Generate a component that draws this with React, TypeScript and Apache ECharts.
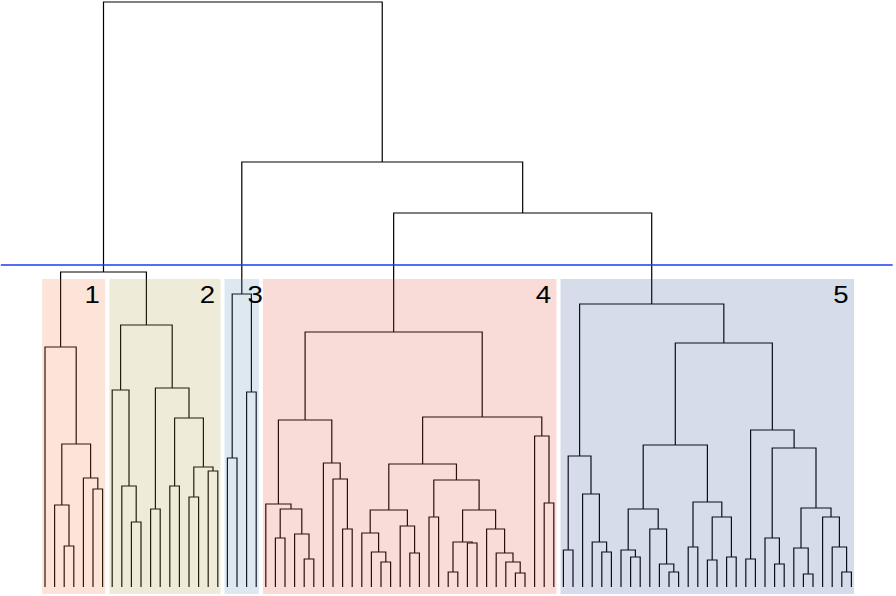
import { useEffect, useRef } from "react";
import * as echarts from "echarts";

type Tree = number | [number, Tree, Tree];

// Five clusters: internal node = [merge height, left, right]; leaf = observation id
const cluster1: Tree = [24.0, 1, [14.3, [8.2, 2, [4.1, 3, 4]], [10.9, 5, [9.8, 6, 7]]]];

const cluster2: Tree = [26.2,
  [19.7, 8, [10.1, 9, [6.5, 10, 11]]],
  [19.9, [7.8, 12, 13], [16.9, [10.1, 14, 15], [12.0, [9.0, 16, 17], [11.6, 18, 19]]]]];

const cluster3: Tree = [29.3, [12.9, 20, 21], [19.5, 22, 23]];

const cluster4: Tree = [25.5,
  [16.7,
    [8.3, 24, [7.8, [4.9, 25, 26], [5.3, 27, [2.8, 28, 29]]]],
    [12.4, 30, [10.8, 31, [5.8, 32, 33]]]],
  [17.0,
    [12.3,
      [7.7, [5.4, 34, [3.5, 35, [2.5, 36, 37]]], [6.1, 38, [3.4, 39, 40]]],
      [10.7, [7.0, 41, 42], [7.7, [4.5, [1.5, 43, 44], [4.4, 45, 46]], [5.8, 47, [3.4, 48, [2.5, 49, [1.4, 50, 51]]]]]]],
    [15.1, 52, [8.4, 53, 54]]]];

const cluster5: Tree = [28.3,
  [13.1, [3.7, 55, 56], [9.3, 57, [4.5, 58, [3.5, 59, 60]]]],
  [24.4,
    [14.2,
      [7.8, [3.7, 61, [3.0, 62, 63]], [5.8, 64, [2.3, 65, [1.5, 66, 67]]]],
      [8.5, [4.0, 68, 69], [7.0, [2.7, 70, 71], [3.0, 72, 73]]]],
    [15.7, [2.8, 74, 75], [13.9, [4.9, 76, [2.3, 77, 78]], [7.9, [3.9, 79, [1.3, 80, 81]], [7.0, 82, [4.0, 83, [1.5, 84, 85]]]]]]]];

// Upper merges joining the clusters
const mergeC1C2 = 31.5;
const mergeC4C5 = 37.4;
const mergeC3C45 = 42.5;
const mergeRoot = 58.5;

const clusters: Tree[] = [cluster1, cluster2, cluster3, cluster4, cluster5];
const clusterLabels = ["1", "2", "3", "4", "5"];
const clusterColors = ["#F07D3C", "#AAA03C", "#5A8CB9", "#E14B3C", "#325096"];
const cutHeight = 32.2;

const fullTree: Tree = [mergeRoot,
  [mergeC1C2, cluster1, cluster2],
  [mergeC3C45, cluster3, [mergeC4C5, cluster4, cluster5]]];

export default function App() {
  const ref = useRef<HTMLDivElement>(null);
  useEffect(() => {
    if (!ref.current) return;
    const chart = echarts.init(ref.current, null, { renderer: "svg" });

    const segs: number[][] = [];
    const ranges: number[][] = [];
    let counter = 0;
    const walk = (t: Tree): [number, number] => {
      const ci = clusters.indexOf(t);
      const start = counter;
      let res: [number, number];
      if (typeof t === "number") {
        res = [counter++, 0];
      } else {
        const [h, a, b] = t;
        const [xa, ha] = walk(a);
        const [xb, hb] = walk(b);
        segs.push([xa, ha, xb, hb, h]);
        res = [(xa + xb) / 2, h];
      }
      if (ci >= 0) ranges[ci] = [start, counter - 1, ci];
      return res;
    };
    walk(fullTree);
    const nLeaves = counter;

    const rectTop = 30.8;
    const rectBottom = -0.7;
    const labelH = 29.2;
    const labelShift = [-0.28, -0.28, 0.7, -0.28, -0.28];

    const option: any = {
      animation: false,
      grid: { left: 0, right: 0, top: 0, bottom: 0 },
      xAxis: { type: "value", min: -4.6875, max: -4.6875 + 896 / 9.6, show: false },
      yAxis: { type: "value", min: -0.9, max: 58.7, show: false },
      series: [
        {
          type: "custom",
          z: 2,
          clip: false,
          data: segs,
          encode: { x: [0, 2], y: [1, 3, 4] },
          renderItem: (_p: any, api: any) => {
            const xa = api.value(0), ha = api.value(1), xb = api.value(2), hb = api.value(3), h = api.value(4);
            const pts = [api.coord([xa, ha]), api.coord([xa, h]), api.coord([xb, h]), api.coord([xb, hb])];
            return {
              type: "polyline",
              shape: { points: pts },
              style: { stroke: "#000", lineWidth: 1.2, fill: null },
            };
          },
        },
        {
          type: "line",
          z: 3,
          symbol: "none",
          data: [[-4.6, cutHeight], [nLeaves + 3.3, cutHeight]],
          lineStyle: { color: "#1b3cf0", width: 1.3 },
        },
        {
          type: "custom",
          z: 4,
          clip: false,
          data: ranges,
          encode: { x: [0, 1] },
          renderItem: (_p: any, api: any) => {
            const i = api.value(2);
            const a = api.coord([api.value(0) - 0.3, rectTop]);
            const b = api.coord([api.value(1) + 0.28, rectBottom]);
            const t = api.coord([api.value(1) + labelShift[i], labelH]);
            return {
              type: "group",
              children: [
                {
                  type: "rect",
                  shape: { x: a[0], y: a[1], width: b[0] - a[0], height: b[1] - a[1] },
                  style: { fill: clusterColors[i], opacity: 0.2 },
                },
                {
                  type: "text",
                  x: t[0],
                  y: t[1],
                  scaleX: 1.2,
                  style: {
                    text: clusterLabels[i],
                    fill: "#000",
                    fontSize: 23,
                    fontFamily: "Liberation Sans, Arial, sans-serif",
                    align: "right",
                    verticalAlign: "middle",
                  },
                },
              ],
            };
          },
        },
      ],
    };
    chart.setOption(option);
    return () => chart.dispose();
  }, []);
  return <div ref={ref} style={{ position: "absolute", left: 0, top: 0, width: 896, height: 596 }} />;
}
